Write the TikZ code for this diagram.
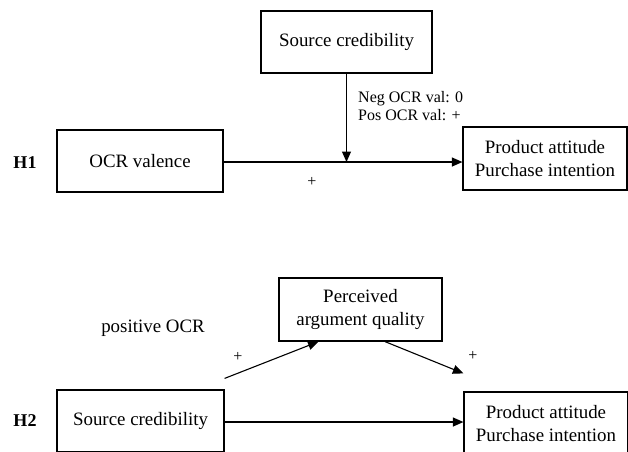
\documentclass[tikz,border=0pt]{standalone}
\usepackage{fontspec}
\setmainfont{Liberation Serif}
\usetikzlibrary{arrows.meta,calc}

\begin{document}
\begin{tikzpicture}[x=1pt,y=-1pt,
  box/.style={draw,line width=1.2pt,inner sep=0pt,align=center,
    font=\fontsize{18.9}{23}\selectfont},
  conn/.style={line width=1.1pt,-{Triangle[length=10.5pt,width=9pt]}},
  lbl/.style={inner sep=0pt,font=\fontsize{18.9}{23}\selectfont},
  small/.style={inner sep=0pt,align=left,font=\fontsize{16}{18.3}\selectfont},
  sign/.style={inner sep=0pt,font=\fontsize{16}{18}\selectfont},
  hyp/.style={inner sep=0pt,font=\fontsize{18}{22}\bfseries\selectfont}]
\useasboundingbox (0,0) rectangle (628,451);
\clip (0,0) rectangle (628,451);

% ---- H1: moderation by source credibility ----
\node[box,minimum width=171pt,minimum height=62pt] (src1) at (346.5,42) {Source credibility};
\node[box,minimum width=166pt,minimum height=62pt] (ocr) at (140,161) {OCR valence};
\node[box,minimum width=164pt,minimum height=63pt] (prod1) at (545,158.5) {Product attitude\\Purchase intention};
\node[hyp] (h1) at (25,163) {H1};

\draw[conn] (ocr.east |- 0,162) -- (prod1.west |- 0,162);
\coordinate (mod) at (src1.south |- 0,162);
\draw[conn] (src1.south) -- (mod);
\node[small,anchor=west] (modlbl) at (358,106) {Neg OCR val: 0\\Pos OCR val: +};
\node[sign] (plus1) at (312,182) {+};

% ---- H2: mediation by perceived argument quality ----
\node[box,minimum width=163pt,minimum height=63pt] (perc) at (360.5,309.5) {Perceived\\argument quality};
\node[box,minimum width=167pt,minimum height=62pt] (src2) at (140.5,421) {Source credibility};
\node[box,minimum width=164pt,minimum height=63pt] (prod2) at (546,423.5) {Product attitude\\Purchase intention};
\node[hyp] (h2) at (25,421) {H2};
\node[lbl] (pos) at (153,328) {positive OCR};

\draw[conn] ([yshift=11pt]src2.north east) -- ([xshift=-42pt]perc.south);
\draw[conn] ([xshift=24.5pt]perc.south) -- ([yshift=18pt]prod2.north west);
\draw[conn] (src2.east |- 0,422) -- (prod2.west |- 0,422);
\node[sign] (plus2) at (238,357) {+};
\node[sign] (plus3) at (473,356) {+};
\end{tikzpicture}
\end{document}
